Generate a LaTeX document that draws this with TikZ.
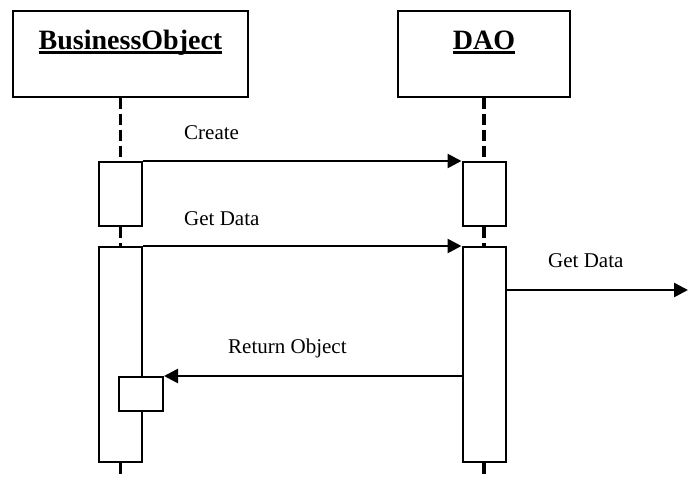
\documentclass[tikz,border=0pt]{standalone}
\usepackage{fontspec}
\setmainfont{Liberation Serif}
\usetikzlibrary{arrows.meta}
\begin{document}
\begin{tikzpicture}[x=1pt,y=-1pt,
  obj/.style={draw,line width=2pt,minimum width=235pt,minimum height=86pt,inner sep=0pt,fill=white},
  act/.style={draw,line width=2pt,minimum width=43pt,inner sep=0pt,fill=white},
  life/.style={line width=3.5pt,dash pattern=on 11pt off 5pt},
  msg/.style={line width=2.6pt,-{Triangle[length=14pt,width=14pt]}},
  lbl/.style={inner sep=0pt,anchor=base west,font=\fontsize{21}{24}\selectfont},
  ttl/.style={inner sep=0pt,anchor=base,font=\fontsize{28}{32}\selectfont\bfseries},
  uline/.style={line width=2.2pt}]
\useasboundingbox[fill=white] (0,0) rectangle (689,477);
% headers
\node[obj,minimum width=235pt] (bo) at (130.5,54) {};
\node[obj,minimum width=172pt] (dao) at (484,54) {};
\node[ttl] (botxt) at (130.5,49) {BusinessObject};
\node[ttl] (daotxt) at (484,49) {DAO};
\draw[uline] ([yshift=-3.5pt]botxt.base west) -- ([yshift=-3.5pt]botxt.base east);
\draw[uline] ([yshift=-3.5pt]daotxt.base west) -- ([yshift=-3.5pt]daotxt.base east);
% activations
\node[act,minimum height=64pt] (bo1) at (120.5,194) {};
\node[act,minimum height=215pt] (bo2) at (120.5,354.5) {};
\node[act,minimum height=64pt] (dao1) at (484,194) {};
\node[act,minimum height=215pt] (dao2) at (484,354.5) {};
\coordinate (boend) at (120.5,477);
\coordinate (daoend) at (484,477);
\coordinate (out) at (688,290);
% lifelines
\draw[life] (bo1.north |- bo.south) -- (bo1.north);
\draw[life] (bo1.south) -- (bo2.north);
\draw[life] (bo2.south) -- (boend);
\draw[life] (dao.south) -- (dao1.north);
\draw[life] (dao1.south) -- (dao2.north);
\draw[life] (dao2.south) -- (daoend);
% nested activation
\node[act,minimum width=44pt,minimum height=34pt] (nest) at (141,394) {};
% messages
\draw[msg] (bo1.north east) -- (dao1.north west);
\draw[msg] (bo2.north east) -- (dao2.north west);
\draw[msg] (dao2.east |- out) -- (out);
\draw[msg] (dao2.west |- nest.north) -- (nest.north east);
% labels
\node[lbl] (l1) at (184,139) {Create};
\node[lbl] (l2) at (184,225) {Get Data};
\node[lbl] (l3) at (548,267) {Get Data};
\node[lbl] (l4) at (228,353) {Return Object};
\end{tikzpicture}
\end{document}
